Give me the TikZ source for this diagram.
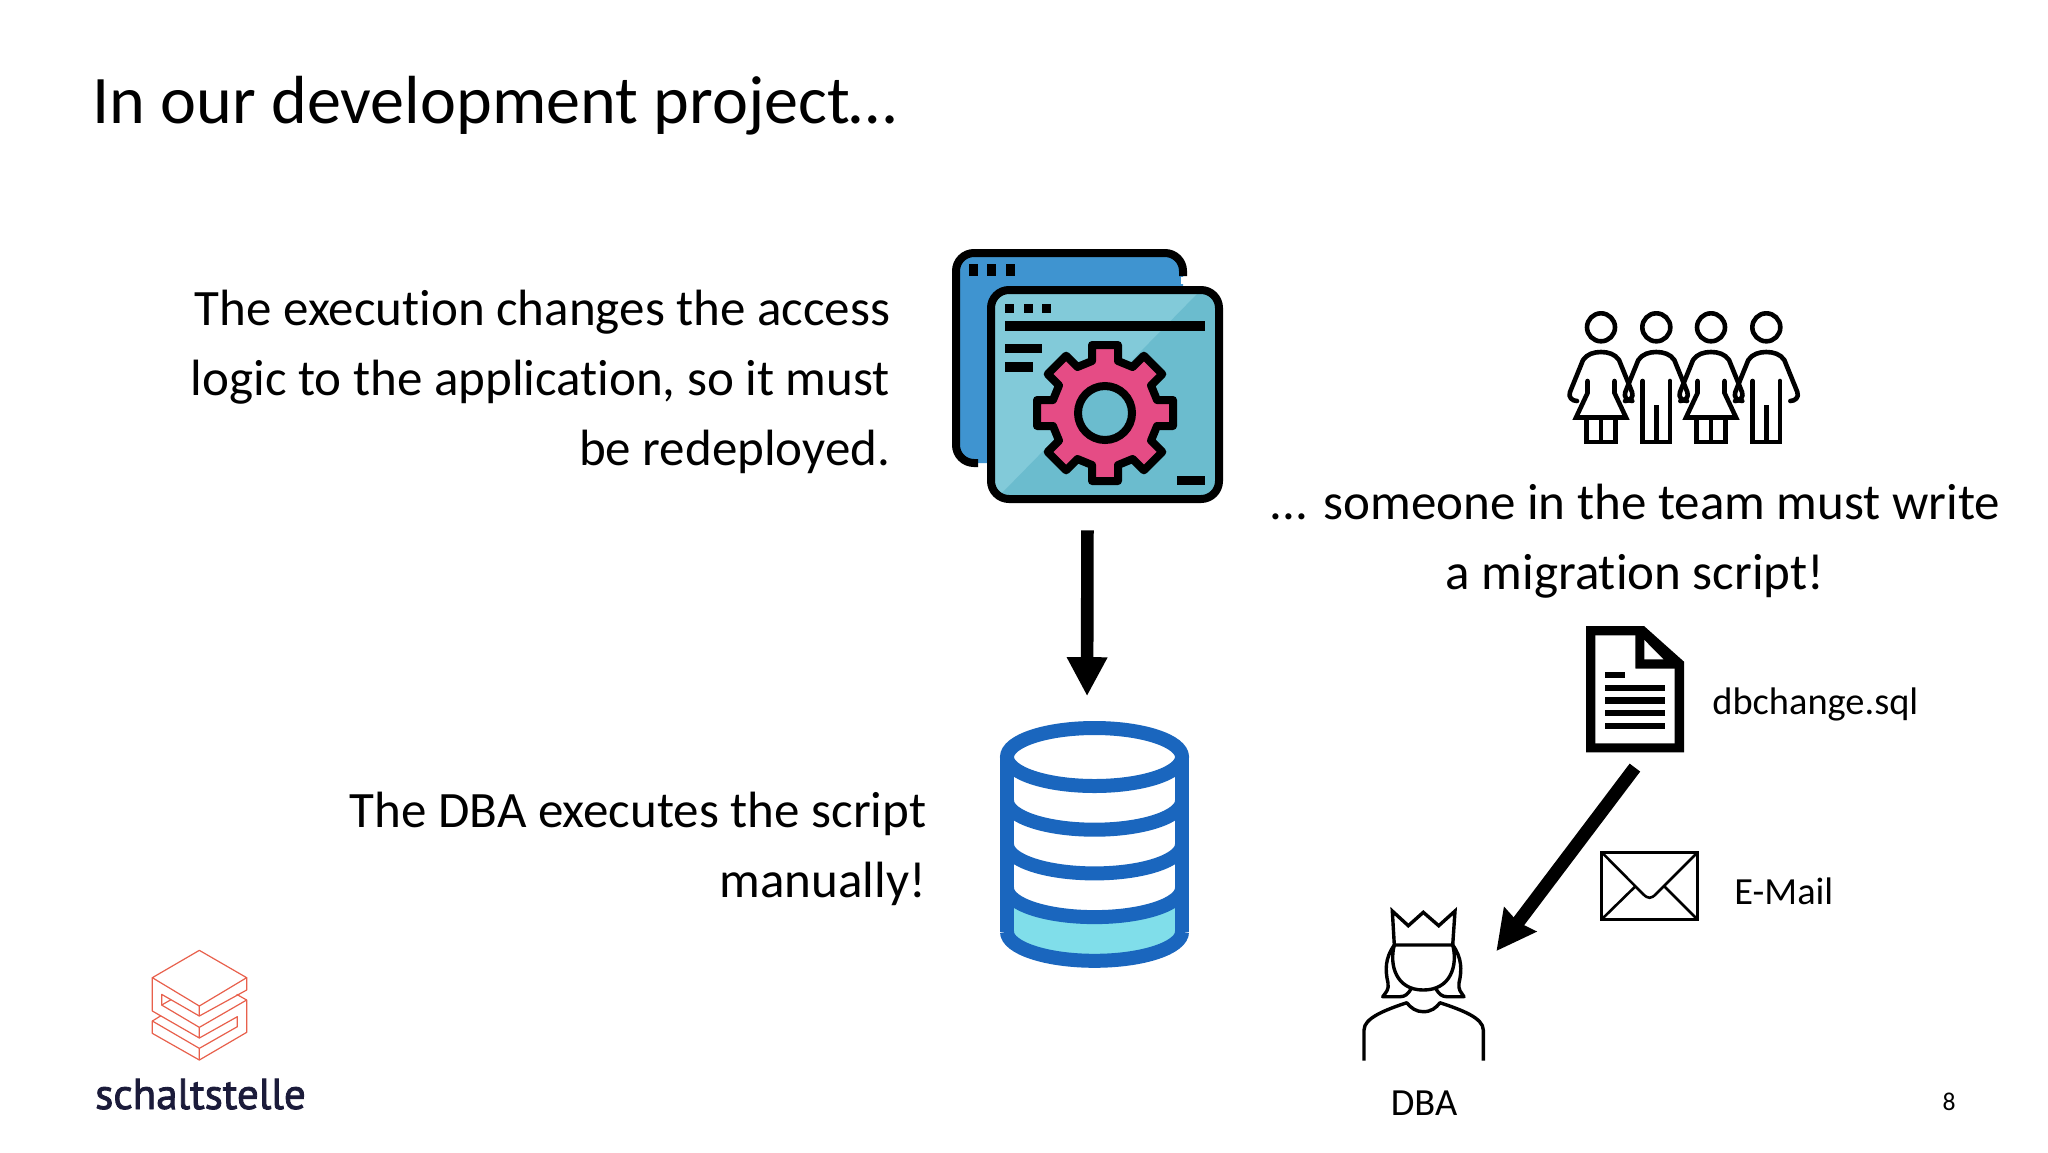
\documentclass[tikz,border=0pt]{standalone}
\usepackage{fontspec}
\setmainfont{Carlito}[Ligatures=CommonOff]
\newfontfamily\logofont{PT Sans}[RawFeature={embolden=2}]
\usetikzlibrary{arrows.meta,calc}
\definecolor{backwin}{HTML}{3F94D0}
\definecolor{frontA}{HTML}{82CAD9}
\definecolor{frontB}{HTML}{6BBCCE}
\definecolor{gearc}{HTML}{E54C85}
\definecolor{dbblue}{HTML}{1A66BE}
\definecolor{dbteal}{HTML}{80DEEA}
\definecolor{logored}{HTML}{E8604C}
\definecolor{logotext}{HTML}{1B1B3A}
\tikzset{
  x=0.5pt,y=-0.5pt,
  slidetext/.style={inner sep=0,font=\fontsize{25.5}{35}\selectfont},
  small/.style={inner sep=0,font=\fontsize{19.2}{22}\selectfont},
  bigarrow/.style={line width=6.3pt,-{Triangle[length=19.5pt,width=19pt]}},
  bigarrowB/.style={line width=6.6pt,-{Stealth[length=19.5pt,width=19.5pt,inset=1.5pt]}},
  iconbox/.style={draw=none,inner sep=0,minimum width=#1},
  person/.style={line width=2.3pt,line cap=round,line join=round},
  dbline/.style={dbblue,line width=7pt},
  crownline/.style={line width=1.7pt,line join=round},
  logoline/.style={logored,line width=0.6pt,line join=round},
  pics/woman/.style={code={
    \draw[person] (0,37.3) circle (14);
    \draw[person] (-24,111) .. controls (-29,111) and (-33,107) .. (-31,102) -- (-18,70) .. controls (-14,64) and (-7,62) .. (0,62) .. controls (7,62) and (14,64) .. (18,70) -- (31,102) .. controls (33,107) and (29,111) .. (24,111);
    \draw[person,miter limit=6,line join=miter] (-13.5,91) -- (-13.5,103) -- (-25,127.5) -- (25,127.5) -- (13.5,103) -- (13.5,91);
    \draw[person,line cap=butt,line join=miter] (-14.5,127.5) -- (-14.5,152) -- (14.5,152) -- (14.5,127.5) (0,127.5) -- (0,152);
  }},
  pics/man/.style={code={
    \draw[person] (0,37.3) circle (14);
    \draw[person] (-24,111) .. controls (-29,111) and (-33,107) .. (-31,102) -- (-18,70) .. controls (-14,64) and (-7,62) .. (0,62) .. controls (7,62) and (14,64) .. (18,70) -- (31,102) .. controls (33,107) and (29,111) .. (24,111);
    \draw[person,line join=miter] (-13.7,91) -- (-13.7,152) -- (13.7,152) -- (13.7,91);
    \draw[person,line cap=butt] (0,115) -- (0,152);
  }}
}
\begin{document}
\begin{tikzpicture}
\useasboundingbox[fill=white] (0,0) rectangle (2048,1152);

% invisible anchors of the icons
\node[iconbox=135.5pt,minimum height=127pt] (appicon) at (1087.5,376) {};
\node[iconbox=102pt,minimum height=123.5pt] (dbicon) at (1087,844.5) {};
\node[iconbox=49pt,minimum height=63pt] (docicon) at (1635,689.5) {};
\node[iconbox=67pt,minimum height=46pt] (dbaicon) at (1429,951) {};

% title
\node[inner sep=0,anchor=base west,font=\fontsize{34.05}{40}\selectfont] (title) at (92,123) {In our development project\ldots};

% texts
\node[slidetext,anchor=base east,align=right] (txtA) at (890.5,465) {The execution changes the access\\logic to the application, so it must\\be redeployed.};
\node[slidetext,anchor=base east,align=right] (txtB) at (926.5,897) {The DBA executes the script\\manually!};
\node[slidetext,anchor=base,align=center] (txtC) at (1635,589) {... someone in the team must write\\a migration script!};
\node[small,anchor=base west] (lblsql) at (1712,714) {dbchange.sql};
\node[small,anchor=base west] (lblmail) at (1734,904) {E-Mail};
\node[small,anchor=base] (lbldba) at (1424,1115) {DBA};
\node[inner sep=0,anchor=base,font=\fontsize{12.8}{15}\selectfont] (pageno) at (1949,1110) {8};

% application windows
\fill[backwin,rounded corners=9pt] (956,253) rectangle (1183,463);
\draw[line width=4pt,rounded corners=9pt] (1183,276) -- (1183,253) -- (956,253) -- (956,463) -- (978,463);
\foreach \x in {973,991,1010} \fill (\x-4.5,264) rectangle (\x+4.5,276);
\fill[white] (1181,277) rectangle (1190,284);
\fill[frontA,rounded corners=8pt] (991,290) rectangle (1219,499);
\fill[frontB] (1197,294) -- (1215,294) -- (1215,495) -- (1000,495) -- cycle;
\draw[line width=4pt,rounded corners=9pt] (991,290) rectangle (1219,499);
\foreach \x in {1009,1028,1046} \fill (\x-4.5,304) rectangle (\x+4.5,313);
\fill (1005,321) rectangle (1205,331);
\fill (1005,344) rectangle (1042,353);
\fill (1005,362) rectangle (1033,372);
\fill (1177,476) rectangle (1205,485);
\begin{scope}[shift={(1105,413)}]
  \draw[fill=gearc,line width=4pt,line join=round]
    (-13,-52) -- (-13,-68) -- (13,-68) -- (13,-52)
    -- (27.6,-46) -- (38.9,-57.3) -- (57.3,-38.9) -- (46,-27.6)
    -- (52,-13) -- (68,-13) -- (68,13) -- (52,13)
    -- (46,27.6) -- (57.3,38.9) -- (38.9,57.3) -- (27.6,46)
    -- (13,52) -- (13,68) -- (-13,68) -- (-13,52)
    -- (-27.6,46) -- (-38.9,57.3) -- (-57.3,38.9) -- (-46,27.6)
    -- (-52,13) -- (-68,13) -- (-68,-13) -- (-52,-13)
    -- (-46,-27.6) -- (-57.3,-38.9) -- (-38.9,-57.3) -- (-27.6,-46) -- cycle;
  \draw[fill=frontB,line width=4pt] (0,0) circle (27);
\end{scope}

% database
\fill[dbteal] (1007,889) .. controls (1007,905) and (1046,917.7) .. (1094.5,917.7) .. controls (1143,917.7) and (1182,905) .. (1182,889) -- (1182,932) .. controls (1182,948) and (1143,961) .. (1094.5,961) .. controls (1046,961) and (1007,948) .. (1007,932) -- cycle;
\draw[dbline] (1094.5,757) ellipse (87.5 and 29);
\foreach \k in {1,2,3,4}
  \draw[dbline] (1007,757+43.7*\k) .. controls (1007,773+43.7*\k) and (1046,786+43.7*\k) .. (1094.5,786+43.7*\k) .. controls (1143,786+43.7*\k) and (1182,773+43.7*\k) .. (1182,757+43.7*\k);
\draw[dbline] (1007,757) -- (1007,932) (1182,757) -- (1182,932);

% arrows
\draw[bigarrow,shorten <=13.5pt,shorten >=12.2pt] (appicon.south) -- (dbicon.north);
\draw[bigarrowB,shorten <=9.2pt] ($(docicon.south)+(11,0)$) -- (dbaicon.east);

% team
\pic at (1601,290) {woman};
\pic at (1656.3,290) {man};
\pic at (1711,290) {woman};
\pic at (1766.3,290) {man};

% document
\fill (1586,626) -- (1644,626) -- (1684,661.7) -- (1684,752.3) -- (1586,752.3) -- cycle;
\fill[white] (1595.3,635.3) -- (1635.3,635.3) -- (1635.3,668.7) -- (1674.7,668.7) -- (1674.7,743.3) -- (1595.3,743.3) -- cycle;
\fill[white] (1644.3,640) -- (1663.3,659.3) -- (1644.3,659.3) -- cycle;
\fill (1604.7,671.7) rectangle (1625.3,678.3);
\foreach \y in {684.7,697.3,710,722.7} \fill (1604.7,\y) rectangle (1665,\y+6.4);

% envelope
\draw[line width=1.3pt] (1601.7,852.3) rectangle (1697.7,919.3);
\draw[line width=1.3pt,line join=round] (1601.7,852.3) -- (1643,894) .. controls (1648,899) and (1651,899) .. (1656,894) -- (1697.7,852.3);
\draw[line width=1.3pt] (1603,918) -- (1635,886.7) (1696,918) -- (1664,886);

% DBA
\draw[crownline,line join=miter] (1392.3,911) -- (1408.3,925.7) -- (1423.3,912.3) -- (1438.7,925.7) -- (1455,911) -- (1452.7,945) -- (1394.3,945) -- cycle;
\draw[crownline] (1394.3,945) .. controls (1389,965) and (1396,990) .. (1423.3,990) .. controls (1451,990) and (1458,965) .. (1452.7,945);
\draw[crownline] (1394.3,945) .. controls (1385,958) and (1385,970) .. (1388,983) .. controls (1389,990) and (1386,992) .. (1382.7,996.7) -- (1400,996.7) .. controls (1405,996.7) and (1408,994) .. (1411,989);
\draw[crownline] (1452.7,945) .. controls (1462,958) and (1462,970) .. (1459,983) .. controls (1458,990) and (1461,992) .. (1464,996.7) -- (1447,996.7) .. controls (1442,996.7) and (1439,994) .. (1436,989);
\draw[crownline] (1364,1060.7) -- (1364,1030) .. controls (1364,1018) and (1385,1010) .. (1406.7,1002.7) .. controls (1411,1008) and (1416,1011.7) .. (1423.3,1011.7) .. controls (1431,1011.7) and (1436,1008) .. (1440,1002.7) .. controls (1462,1010) and (1483.3,1018) .. (1483.3,1030) -- (1483.3,1060.7);

% logo
\begin{scope}[shift={(145,945)},x=0.16667pt,y=-0.16667pt]
  \draw[logoline] (163,16) -- (305,98) -- (163,183) -- (22,98) -- cycle;
  \draw[logoline] (305,98) -- (305,135) -- (163,213) -- (163,183);
  \draw[logoline] (22,98) -- (22,198) -- (163,279) -- (163,247);
  \draw[logoline] (163,213) -- (50,148) -- (50,180) -- (163,247) -- (305,165) -- (305,262) -- (163,345) -- (22,265) -- (22,228) -- (163,310) -- (277,245) -- (277,215) -- (163,279);
  \draw[logoline] (163,310) -- (163,345) (22,228) -- (48,212) (275,148) -- (305,165) (50,180) -- (78,164);
\end{scope}
\node[inner sep=0,anchor=base,text=logotext,font=\logofont\fontsize{21.5}{24}\selectfont] (logotxt) at (200.5,1109) {schaltstelle};
\end{tikzpicture}
\end{document}
